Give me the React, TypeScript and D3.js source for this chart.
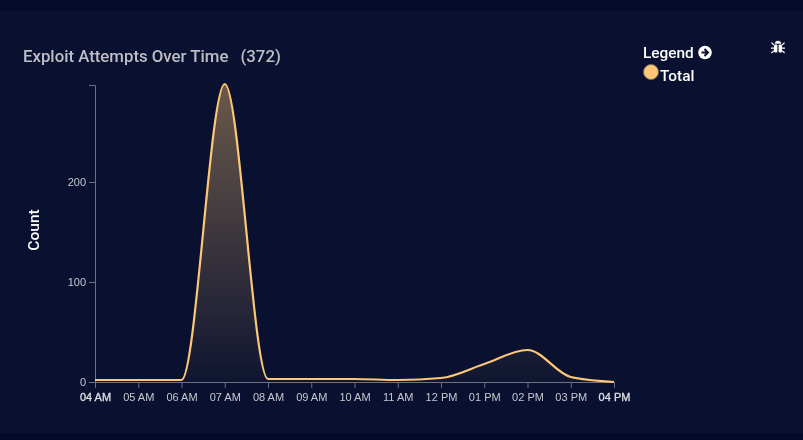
import * as d3 from 'd3';
import { useEffect, useRef } from 'react';

const hours = [4, 5, 6, 7, 8, 9, 10, 11, 12, 13, 14, 15, 16];
const tickLabels = ['04 AM', '05 AM', '06 AM', '07 AM', '08 AM', '09 AM', '10 AM', '11 AM', '12 PM', '01 PM', '02 PM', '03 PM', '04 PM'];
const totals = [2, 2, 2, 298, 3, 3, 3, 2, 4, 18, 32, 5, 0];
const yTicks = [0, 100, 200];

function App() {
  const axisRef = useRef<SVGGElement>(null);

  const margin = { top: 85, left: 95 };
  const width = 519;
  const height = 297;

  const x = d3.scaleLinear().domain([4, 16]).range([0, width]);
  const y = d3.scaleLinear().domain([0, 297]).range([height, 0]);

  const line = d3
    .line<number>()
    .x((_d, i) => x(hours[i]))
    .y((d) => y(d))
    .curve(d3.curveMonotoneX);
  const area = d3
    .area<number>()
    .x((_d, i) => x(hours[i]))
    .y0(height)
    .y1((d) => y(d))
    .curve(d3.curveMonotoneX);

  useEffect(() => {
    const g = d3.select(axisRef.current);
    g.selectAll('*').remove();

    // x axis
    const xAxis = g
      .append('g')
      .attr('transform', `translate(0,${height})`)
      .call(
        d3
          .axisBottom(x)
          .tickValues(hours)
          .tickSize(6)
          .tickSizeOuter(0)
          .tickFormat((_d, i) => tickLabels[i])
      );
    xAxis.selectAll('text').attr('dy', '0.95em').attr('font-size', 11);

    // y axis
    const yAxis = g.append('g').call(d3.axisLeft(y).tickValues(yTicks).tickSize(6));
    yAxis.selectAll('text').attr('font-size', 11);

    g.selectAll('.domain').attr('stroke', '#6f7280');
    g.selectAll('.tick line').attr('stroke', '#6f7280');
    g.selectAll('text').attr('fill', '#c9cad0').attr('font-family', '"Liberation Sans", Arial, sans-serif');

    // first and last labels sit brighter in the original
    xAxis
      .selectAll('text')
      .filter((_d, i) => i === 0 || i === tickLabels.length - 1)
      .attr('fill', '#e0e0e4')
      .attr('stroke', '#e0e0e4')
      .attr('stroke-width', 0.3);
  }, []);

  return (
    <svg width={803} height={440} style={{ position: 'absolute', left: 0, top: 0 }}>
      <defs>
        <linearGradient id="totalFill" x1="0" y1="0" x2="0" y2="1">
          <stop offset="0%" stopColor="#ffc976" stopOpacity={0.4} />
          <stop offset="100%" stopColor="#ffc976" stopOpacity={0.03} />
        </linearGradient>
      </defs>
      <rect width={803} height={440} fill="#040a28" />
      <rect y={11} width={803} height={422} fill="#0a1130" />

      <g opacity={0.995}>
        <text x={23} y={62} fontFamily="Roboto, sans-serif" fontSize={16.8} fontWeight={500} fill="#bfc0c6">
          Exploit Attempts Over Time
        </text>
        <text x={240.5} y={62} fontFamily="Roboto, sans-serif" fontSize={16.8} fontWeight={500} fill="#bfc0c6">
          (372)
        </text>

        <text
          transform="translate(39,230) rotate(-90)"
          textAnchor="middle"
          fontFamily="Roboto, sans-serif"
          fontSize={15.5}
          fontWeight={500}
          fill="#ffffff"
        >
          Count
        </text>

        <g transform={`translate(${margin.left},${margin.top})`}>
          <path d={area(totals) ?? ''} fill="url(#totalFill)" />
          <g ref={axisRef} />
          <path d={line(totals) ?? ''} fill="none" stroke="#ffc976" strokeWidth={2.2} />
        </g>

        {/* legend */}
        <text x={643} y={58} fontFamily="Roboto, sans-serif" fontSize={15.4} fontWeight={500} fill="#ffffff">
          Legend
        </text>
        <circle cx={705} cy={52.5} r={6.8} fill="#ffffff" />
        <path d="M701.5 52.5h6M704.5 49l3.4 3.5-3.4 3.5" fill="none" stroke="#0a1130" strokeWidth={2} />
        <circle cx={651} cy={72} r={7.5} fill="#ffc976" stroke="#77705f" strokeWidth={1} />
        <text x={660} y={81} fontFamily="Roboto, sans-serif" fontSize={15.4} fontWeight={500} fill="#ffffff">
          Total
        </text>

        {/* bug icon */}
        <g transform="translate(778,47)" fill="#ffffff" stroke="#ffffff">
          <path d="M-3 -3.5a3 2.6 0 0 1 6 0z" strokeWidth={0.4} />
          <rect x={-4} y={-2.6} width={3.4} height={8} rx={1} stroke="none" />
          <rect x={0.6} y={-2.6} width={3.4} height={8} rx={1} stroke="none" />
          <path d="M-4 -2l-2.6 -2.4M4 -2l2.6 -2.4M-4 1.2h-3M4 1.2h3M-4 3.6l-2.6 2.4M4 3.6l2.6 2.4" fill="none" strokeWidth={1.2} />
        </g>
      </g>
    </svg>
  );
}

export default App;
